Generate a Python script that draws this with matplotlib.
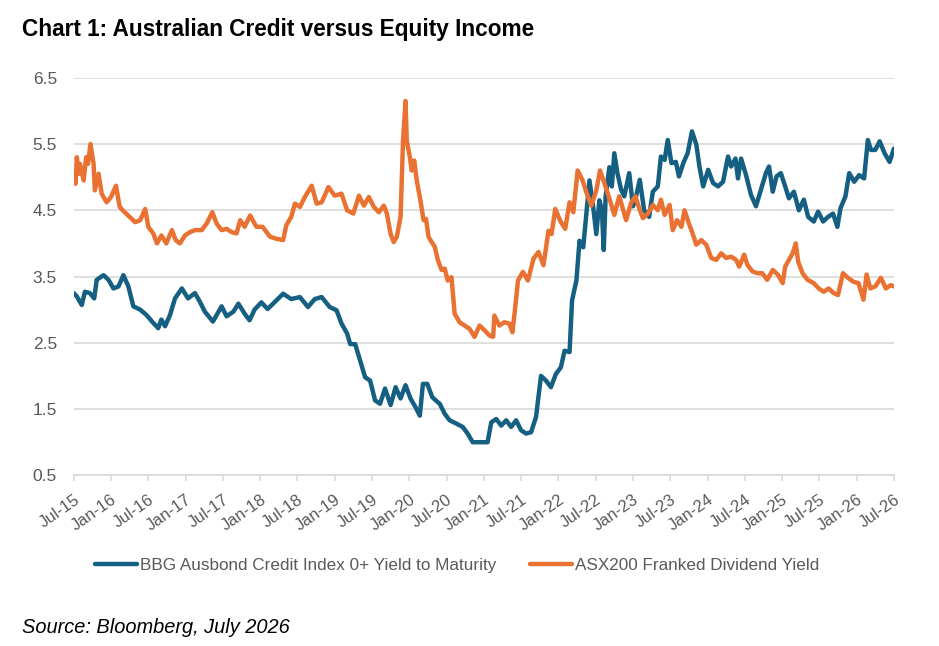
import matplotlib.pyplot as plt
import numpy as np

# months since Jul-15
credit_month = [0, 0.5, 1.3, 1.8, 2.6, 3.3, 3.7, 4.8, 5.6, 6.4, 7.2, 8.0, 8.8, 9.6, 10.7, 11.7, 12.8, 13.6, 14.1, 14.7,
                15.5, 16.3, 17.4, 18.4, 19.5, 20.3, 21.1, 22.4, 23.8, 24.6, 25.7, 26.5, 27.5, 28.3, 29.1, 30.2, 31.2, 32.3,
                33.7, 35.0, 36.4, 37.7, 38.8, 39.9, 41.2, 42.3, 43.1, 44.0, 44.5, 45.3, 46.1, 46.9, 47.7, 48.5, 49.3, 50.1,
                51.0, 51.8, 52.6, 53.4, 54.2, 55.0, 55.7, 56.2, 56.9, 57.7, 58.5, 58.9, 59.7, 60.5, 61.6, 62.6, 63.4, 64.2,
                65.0, 65.8, 66.6, 67.2, 68.0, 68.8, 69.6, 70.4, 71.2, 72.0, 72.8, 73.6, 74.4, 75.2, 76.0, 76.8, 77.6, 78.4,
                79.0, 79.8, 80.2, 80.9, 81.4, 82.0, 82.6, 83.0, 83.6, 84.1, 84.6, 85.0, 85.3, 85.6, 86.2, 86.6, 87.0, 87.5,
                88.1, 88.6, 89.4, 90.0, 90.5, 91.1, 91.8, 92.6, 93.2, 94.0, 94.5, 95.1, 95.6, 96.2, 96.9, 97.4, 98.1, 98.8,
                99.5, 100.2, 100.7, 101.3, 102.1, 102.9, 103.7, 104.5, 105.3, 105.8, 106.5, 106.9, 107.4, 108.2, 109.0,
                109.8, 110.6, 111.4, 111.9, 112.5, 113.1, 113.8, 114.5, 115.1, 115.9, 116.7, 117.5, 118.2, 119.1, 119.8,
                120.6, 121.4, 122.2, 122.9, 123.4, 124.2, 124.8, 125.6, 126.4, 127.2, 127.8, 128.3, 129.0, 129.7, 130.5,
                131.3, 132.0]
credit_yield = [3.25, 3.2, 3.07, 3.27, 3.25, 3.17, 3.45, 3.52, 3.45, 3.32, 3.35, 3.52, 3.35, 3.05, 3.0, 2.92, 2.8, 2.72,
                2.85, 2.75, 2.92, 3.17, 3.32, 3.17, 3.25, 3.12, 2.97, 2.82, 3.05, 2.9, 2.97, 3.09, 2.94, 2.84, 3.0, 3.11,
                3.01, 3.11, 3.24, 3.16, 3.19, 3.04, 3.16, 3.19, 3.04, 2.99, 2.79, 2.64, 2.48, 2.48, 2.23, 1.98, 1.93, 1.63,
                1.58, 1.81, 1.56, 1.83, 1.66, 1.86, 1.66, 1.53, 1.4, 1.88, 1.88, 1.68, 1.61, 1.58, 1.43, 1.33, 1.28, 1.23,
                1.13, 1.0, 1.0, 1.0, 1.0, 1.3, 1.35, 1.25, 1.33, 1.23, 1.33, 1.18, 1.13, 1.15, 1.38, 2.0, 1.93, 1.83, 2.03,
                2.13, 2.38, 2.36, 3.14, 3.44, 4.04, 3.94, 4.55, 4.95, 4.55, 4.14, 4.65, 4.5, 3.9, 4.7, 5.15, 4.86, 5.36,
                5.06, 4.81, 4.71, 5.06, 4.56, 4.71, 4.96, 4.5, 4.4, 4.78, 4.86, 5.31, 5.26, 5.56, 5.21, 5.23, 5.01, 5.21,
                5.36, 5.69, 5.49, 5.16, 4.86, 5.11, 4.91, 4.86, 4.93, 5.31, 5.16, 5.28, 4.98, 5.28, 5.03, 4.73, 4.56, 4.81,
                5.06, 5.16, 4.78, 5.01, 5.06, 4.86, 4.68, 4.78, 4.5, 4.66, 4.4, 4.33, 4.48, 4.33, 4.4, 4.45, 4.25, 4.53,
                4.71, 5.06, 4.93, 5.03, 4.98, 5.56, 5.41, 5.41, 5.54, 5.36, 5.23, 5.43]

div_month = [0, 0.3, 0.5, 0.8, 1.0, 1.6, 2.0, 2.3, 2.7, 3.2, 3.4, 4.0, 4.5, 5.3, 6.0, 6.8, 7.4, 8.2, 9.0, 9.9, 10.7,
             11.5, 12.0, 12.8, 13.4, 14.1, 14.9, 15.8, 16.4, 17.1, 17.9, 18.7, 19.5, 20.6, 21.4, 22.3, 23.0, 23.8, 24.6,
             25.4, 26.2, 26.8, 27.5, 28.4, 29.4, 30.4, 31.6, 32.6, 33.7, 34.2, 35.0, 35.6, 36.4, 37.2, 38.3, 39.1, 39.9,
             41.0, 42.0, 43.1, 44.0, 45.0, 45.9, 46.7, 47.5, 48.3, 49.1, 49.9, 50.4, 51.0, 51.5, 52.0, 52.6, 53.0, 53.4,
             53.6, 54.1, 54.4, 54.8, 55.2, 55.8, 56.3, 56.7, 57.1, 57.6, 58.1, 58.6, 59.2, 59.7, 60.2, 60.8, 61.3, 62.1,
             62.9, 63.7, 64.5, 65.3, 66.1, 66.9, 67.5, 67.7, 68.5, 69.3, 70.1, 70.6, 71.0, 71.5, 72.3, 73.1, 74.0, 74.8,
             75.6, 76.4, 76.9, 77.5, 78.3, 79.1, 79.8, 80.4, 81.1, 81.9, 82.5, 83.3, 84.1, 84.7, 85.4, 86.2, 87.0, 87.8,
             88.9, 89.7, 90.4, 91.0, 91.6, 92.4, 93.2, 94.0, 94.5, 95.1, 95.9, 96.4, 97.1, 97.8, 98.3, 99.0, 99.6, 100.2,
             101.0, 101.8, 102.6, 103.4, 104.2, 105.0, 105.8, 106.6, 107.1, 107.9, 108.4, 109.2, 110.0, 110.8, 111.6,
             112.5, 113.3, 114.1, 114.5, 115.1, 115.7, 116.2, 116.6, 117.3, 118.1, 119.1, 119.9, 120.7, 121.5, 122.3,
             123.0, 123.8, 124.6, 125.5, 126.3, 127.1, 127.6, 128.2, 129.0, 129.9, 130.7, 131.5, 132.0]
div_yield = [5.0, 4.9, 5.3, 5.05, 5.2, 4.95, 5.3, 5.2, 5.5, 5.2, 4.8, 5.05, 4.75, 4.62, 4.7, 4.87, 4.55, 4.47, 4.4,
             4.32, 4.35, 4.52, 4.25, 4.15, 4.0, 4.12, 4.0, 4.2, 4.05, 4.0, 4.12, 4.17, 4.2, 4.2, 4.3, 4.47, 4.3, 4.2,
             4.22, 4.17, 4.15, 4.35, 4.25, 4.42, 4.25, 4.25, 4.1, 4.07, 4.05, 4.27, 4.4, 4.6, 4.55, 4.7, 4.87, 4.6, 4.62,
             4.85, 4.72, 4.75, 4.5, 4.45, 4.72, 4.57, 4.7, 4.55, 4.47, 4.57, 4.45, 4.14, 4.02, 4.1, 4.4, 5.55, 6.15,
             5.55, 5.3, 5.1, 5.25, 4.95, 4.65, 4.35, 4.37, 4.1, 4.02, 3.95, 3.75, 3.6, 3.62, 3.44, 3.49, 2.94, 2.81,
             2.76, 2.71, 2.59, 2.76, 2.69, 2.61, 2.59, 2.91, 2.76, 2.81, 2.79, 2.66, 2.99, 3.44, 3.57, 3.44, 3.77, 3.87,
             3.67, 4.19, 4.14, 4.52, 4.34, 4.22, 4.62, 4.47, 5.1, 4.95, 4.77, 4.57, 4.8, 5.1, 4.91, 4.68, 4.43, 4.71,
             4.35, 4.61, 4.71, 4.53, 4.38, 4.45, 4.58, 4.5, 4.66, 4.43, 4.58, 4.2, 4.35, 4.25, 4.5, 4.3, 4.15, 3.98,
             4.05, 3.98, 3.78, 3.75, 3.85, 3.78, 3.8, 3.75, 3.65, 3.83, 3.68, 3.58, 3.55, 3.55, 3.45, 3.6, 3.53, 3.4,
             3.65, 3.75, 3.85, 4.0, 3.72, 3.55, 3.45, 3.4, 3.32, 3.27, 3.32, 3.25, 3.22, 3.55, 3.48, 3.42, 3.4, 3.15,
             3.53, 3.32, 3.35, 3.48, 3.32, 3.37, 3.35]

tick_labels = ['Jul-15', 'Jan-16', 'Jul-16', 'Jan-17', 'Jul-17', 'Jan-18', 'Jul-18', 'Jan-19', 'Jul-19', 'Jan-20',
               'Jul-20', 'Jan-21', 'Jul-21', 'Jan-22', 'Jul-22', 'Jan-23', 'Jul-23', 'Jan-24', 'Jul-24', 'Jan-25',
               'Jul-25', 'Jan-26', 'Jul-26']
y_ticks = [0.5, 1.5, 2.5, 3.5, 4.5, 5.5, 6.5]

blue = '#156082'
orange = '#E97132'
grey = '#595959'
grid = '#D9D9D9'

plt.rcParams['font.family'] = ['Liberation Sans', 'DejaVu Sans']

fig = plt.figure(figsize=(9.39, 6.46), dpi=100)
ax = fig.add_axes([0.0785, 0.2642, 0.952 - 0.0785, 0.8797 - 0.2642])

ax.plot(credit_month, credit_yield, color=blue, lw=3.2, solid_joinstyle='round', solid_capstyle='round',
        label='BBG Ausbond Credit Index 0+ Yield to Maturity')
ax.plot(div_month, div_yield, color=orange, lw=3.2, solid_joinstyle='round', solid_capstyle='round',
        label='ASX200 Franked Dividend Yield')

ax.set_xlim(0, 132)
ax.set_ylim(0.5, 6.5)
ax.set_yticks(y_ticks)
ax.set_yticklabels([f'{v:.1f}' for v in y_ticks])
ax.set_xticks(np.arange(0, 133, 6))
ax.set_xticklabels(tick_labels, rotation=35, ha='right', va='top', rotation_mode='anchor')

ax.grid(axis='y', color=grid, lw=1.2)
ax.set_axisbelow(True)
for s in ['top', 'right', 'left']:
    ax.spines[s].set_visible(False)
ax.spines['bottom'].set_color(grid)
ax.spines['bottom'].set_linewidth(1.2)
ax.tick_params(axis='y', length=0, pad=12, labelsize=12.5, labelcolor=grey)
ax.tick_params(axis='x', length=4, width=1.2, color=grid, pad=8, labelsize=12, labelcolor=grey)

fig.text(0.023, 0.955, 'Chart 1: Australian Credit versus Equity Income', fontsize=16.3, fontweight='bold',
         va='center', ha='left')
fig.legend(loc='center', bbox_to_anchor=(0.487, 0.124), ncol=2, frameon=False, fontsize=12.3,
           labelcolor=grey, handlelength=2.45, handletextpad=0.15, columnspacing=2.0)
fig.text(0.023, 0.029, 'Source: Bloomberg, July 2026', fontsize=14.4, fontstyle='italic', va='center', ha='left')

fig.savefig('out.png', dpi=100)
